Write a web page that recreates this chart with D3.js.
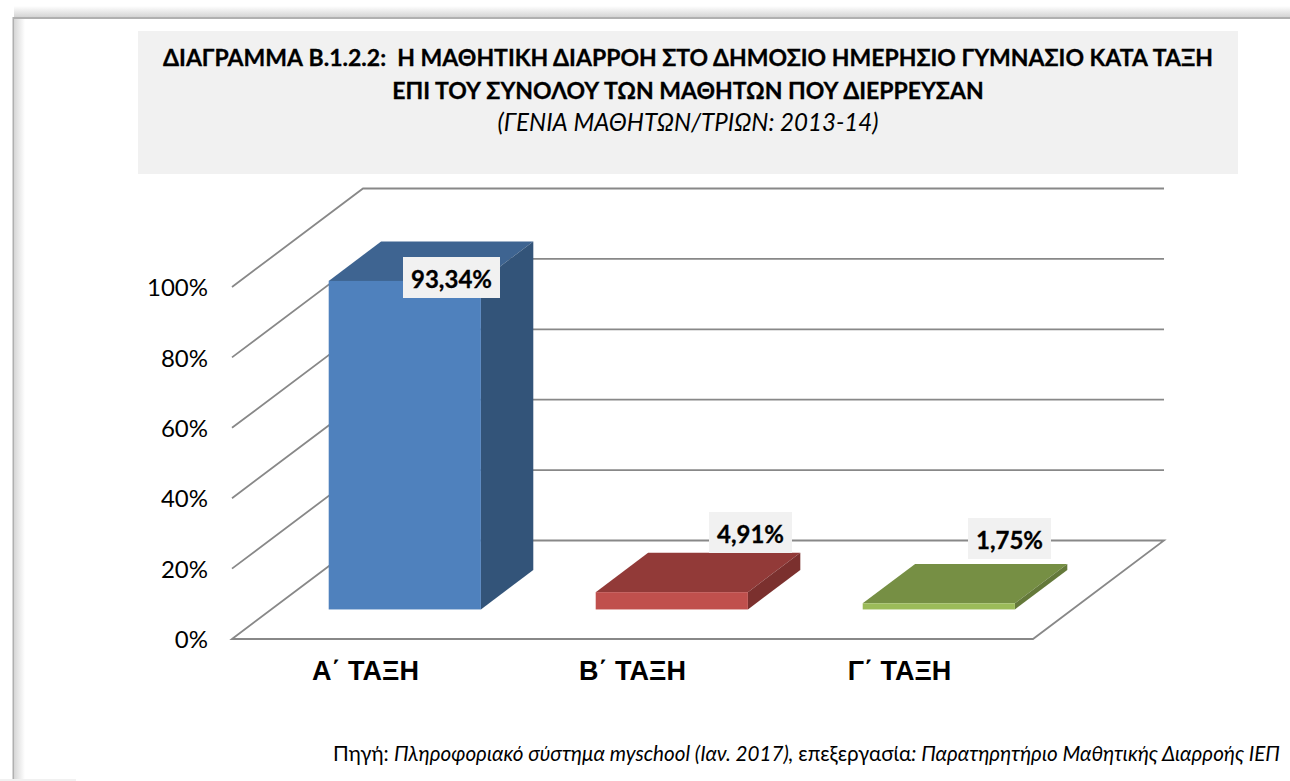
<!DOCTYPE html>
<html>
<head>
<meta charset="utf-8">
<script src="https://d3js.org/d3.v7.min.js"></script>
<style>
html, body { margin: 0; padding: 0; background: #fff; overflow: hidden; }
svg { display: block; }
</style>
</head>
<body>
<script>
var categories = ["Α΄ ΤΑΞΗ", "Β΄ ΤΑΞΗ", "Γ΄ ΤΑΞΗ"];
var values = [93.34, 4.91, 1.75];
var valueLabels = ["93,34%", "4,91%", "1,75%"];
var yTicks = [0, 20, 40, 60, 80, 100];
var titleLines = [
	"ΔΙΑΓΡΑΜΜΑ Β.1.2.2:  Η ΜΑΘΗΤΙΚΗ ΔΙΑΡΡΟΗ ΣΤΟ ΔΗΜΟΣΙΟ ΗΜΕΡΗΣΙΟ ΓΥΜΝΑΣΙΟ ΚΑΤΑ ΤΑΞΗ",
	"ΕΠΙ ΤΟΥ ΣΥΝΟΛΟΥ ΤΩΝ ΜΑΘΗΤΩΝ ΠΟΥ ΔΙΕΡΡΕΥΣΑΝ"
];
var subtitle = "(ΓΕΝΙΑ ΜΑΘΗΤΩΝ/ΤΡΙΩΝ: 2013-14)";
var sourceParts = [
	["Πηγή: ", "normal"],
	["Πληροφοριακό σύστημα myschool (Ιαν. 2017), ", "italic"],
	["επεξεργασία", "normal"],
	[": Παρατηρητήριο Μαθητικής Διαρροής ΙΕΠ", "italic"]
];
var barColors = [
	{front: "#4f81bd", top: "#3e6491", side: "#335479"},
	{front: "#c0504d", top: "#923a38", side: "#7b302e"},
	{front: "#9bbb59", top: "#768f44", side: "#64793a"}
];

var bodyFont = "Lato, 'Open Sans', sans-serif";
var svg = d3.select("body").append("svg").attr("width", 1290).attr("height", 781);
var defs = svg.append("defs");

function shade(id, x1, y1, x2, y2, c1, c2){
	var g = defs.append("linearGradient").attr("id", id)
		.attr("x1", x1).attr("y1", y1).attr("x2", x2).attr("y2", y2);
	g.append("stop").attr("offset", 0).attr("stop-color", c1);
	g.append("stop").attr("offset", 1).attr("stop-color", c2);
}
shade("shTop", 0, 0, 0, 1, "#ffffff", "#d0d0d0");
shade("shLeft", 0, 0, 1, 0, "#dadada", "#ffffff");

// page frame with its soft shadow
svg.append("rect").attr("x", 14).attr("y", 6).attr("width", 1276).attr("height", 12).style("fill", "url(#shTop)");
svg.append("rect").attr("x", 15).attr("y", 19).attr("width", 10).attr("height", 762).style("fill", "url(#shLeft)");
svg.append("path").attr("d", "M13.5,781V18H1290").style("fill", "none").style("stroke", "#b0b0b0").style("stroke-width", 2);
svg.append("rect").attr("x", 0).attr("y", 779).attr("width", 76).attr("height", 2).style("fill", "#f1f1f1");

// title block
svg.append("rect").attr("x", 138).attr("y", 31).attr("width", 1100).attr("height", 143).style("fill", "#f1f1f1");
svg.selectAll(".title").data(titleLines).enter().append("text")
	.attr("class", "title")
	.attr("x", 688)
	.attr("y", function(d, i){ return 66 + i * 33; })
	.attr("text-anchor", "middle")
	.style("font-family", bodyFont)
	.style("font-weight", "bold")
	.style("font-size", "23px")
	.style("white-space", "pre")
	.style("fill", "#000")
	.style("stroke", "#000")
	.style("stroke-width", 0.3)
	.text(function(d){ return d; });
svg.append("text").attr("x", 688).attr("y", 131).attr("text-anchor", "middle")
	.style("font-family", bodyFont).style("font-style", "italic").style("font-size", "24.1px")
	.text(subtitle);

// plot: front plane scales plus the slant of the 3d floor
var x = d3.scaleBand().domain(categories).range([232, 1033]).paddingInner(0.43).paddingOuter(0.215);
var y = d3.scaleLinear().domain([0, 100]).range([639, 287]);
var depthX = d3.scaleLinear().domain([0, 1]).range([0, 131]);
var depthY = d3.scaleLinear().domain([0, 1]).range([0, -98.5]);
var barNear = 0.3, barFar = 0.7;

var grid = svg.append("g").style("fill", "none").style("stroke", "#888").style("stroke-width", 1.8);
grid.selectAll("path").data(yTicks).enter().append("path")
	.attr("d", function(d){
		var xl = x.range()[0], xr = x.range()[1];
		var p = d3.path();
		p.moveTo(xl, y(d));
		p.lineTo(xl + depthX(1), y(d) + depthY(1));
		p.lineTo(xr + depthX(1), y(d) + depthY(1));
		if(d === 0){
			p.lineTo(xr, y(d));
			p.closePath();
		}
		return p.toString();
	});

// bars: front, top and side faces
function face(pts){ return d3.line()(pts); }
var bars = svg.selectAll(".bar").data(values).enter().append("g").attr("class", "bar");
bars.each(function(v, i){
	var g = d3.select(this);
	var bw = x.bandwidth();
	var x0 = x(categories[i]) + depthX(barNear);
	var yb = y(0) + depthY(barNear);
	var yt = y(v) + depthY(barNear);
	var dx = depthX(barFar - barNear), dy = depthY(barFar - barNear);
	var c = barColors[i];
	g.append("path").attr("d", face([[x0, yt], [x0 + dx, yt + dy], [x0 + bw + dx, yt + dy], [x0 + bw, yt]]) + "Z").style("fill", c.top);
	g.append("path").attr("d", face([[x0 + bw, yt], [x0 + bw + dx, yt + dy], [x0 + bw + dx, yb + dy], [x0 + bw, yb]]) + "Z").style("fill", c.side);
	g.append("rect").attr("x", x0).attr("y", yt).attr("width", bw).attr("height", yb - yt).style("fill", c.front);
});

// value labels on grey boxes
var labelBoxes = [[403, 257, 97, 41], [709, 512, 83, 41], [968, 518, 83, 41]];
valueLabels.forEach(function(t, i){
	var b = labelBoxes[i];
	svg.append("rect").attr("x", b[0]).attr("y", b[1]).attr("width", b[2]).attr("height", b[3]).style("fill", "#f1f1f1");
	svg.append("text").attr("x", b[0] + b[2] / 2).attr("y", b[1] + 31).attr("text-anchor", "middle")
		.style("font-family", bodyFont).style("font-weight", "bold").style("font-size", "24px").style("fill", "#000")
		.style("stroke", "#000").style("stroke-width", 0.3)
		.text(t);
});

// axes
var yAxis = svg.append("g").attr("transform", "translate(214,1)")
	.call(d3.axisLeft(y).tickValues(yTicks).tickSize(0).tickPadding(6).tickFormat(function(d){ return d + "%"; }));
yAxis.select(".domain").remove();
yAxis.selectAll("text").style("font-family", bodyFont).style("font-size", "24px").style("fill", "#000");

var xAxis = svg.append("g").attr("transform", "translate(0,653)")
	.call(d3.axisBottom(x).tickSize(0).tickPadding(8));
xAxis.select(".domain").remove();
xAxis.selectAll("text").style("font-family", "'Liberation Sans', Arial, sans-serif").style("font-weight", "bold").style("font-size", "27px").style("fill", "#000");

// source line
var src = svg.append("text").attr("x", 1280).attr("y", 761).attr("text-anchor", "end")
	.style("font-family", bodyFont).style("font-size", "20.65px").style("fill", "#000");
src.selectAll("tspan").data(sourceParts).enter().append("tspan")
	.style("font-style", function(d){ return d[1]; })
	.style("white-space", "pre")
	.text(function(d){ return d[0]; });
</script>
</body>
</html>
